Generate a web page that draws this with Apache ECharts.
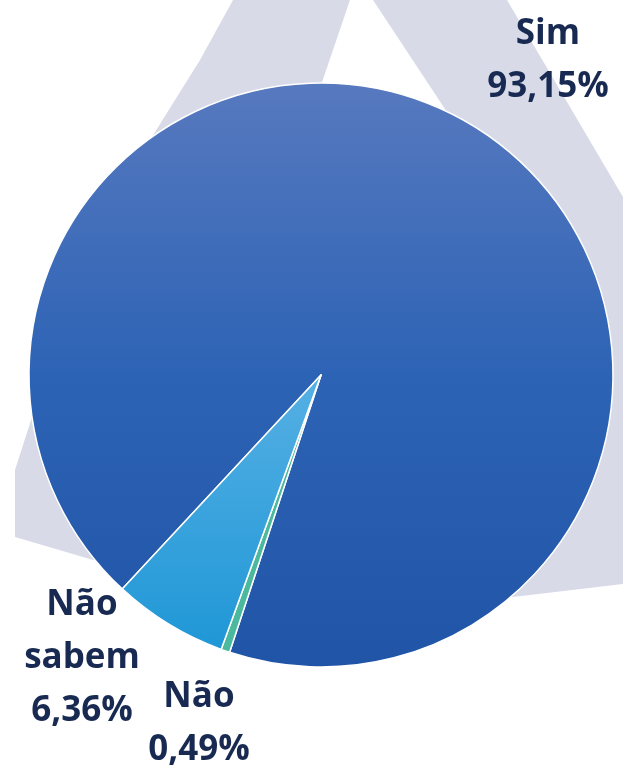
<!DOCTYPE html>
<html lang="pt">
<head>
<meta charset="UTF-8">
<title>Sim / Não / Não sabem</title>
<script src="https://cdn.jsdelivr.net/npm/echarts@6/dist/echarts.min.js"></script>
<style>
  html, body { margin: 0; padding: 0; background: #fff; }
  #main { width: 623px; height: 766px; }
</style>
</head>
<body>
<div id="main"></div>
<script>
// categorias e valores (%)
var categorias = ['Sim', 'Não', 'Não\nsabem'];
var valores = [93.15, 0.49, 6.36];

// posicao dos rotulos (centro do bloco de texto)
var rotuloX = [548, 199, 82];
var rotuloY = [61, 724, 658];

var chart = echarts.init(document.getElementById('main'));

function grad(c0, c1, c2) {
    var stops = [{ offset: 0, color: c0 }];
    if (c2) {
        stops.push({ offset: 0.5, color: c1 });
        stops.push({ offset: 1, color: c2 });
    } else {
        stops.push({ offset: 1, color: c1 });
    }
    return new echarts.graphic.LinearGradient(0, 0, 0, 1, stops);
}

var cores = [
    grad('#5779bf', '#2d63b5', '#2054a7'),
    '#4ab99d',
    grad('#56b0e4', '#1f97d6')
];

var dados = [];
for (var i = 0; i < categorias.length; i++) {
    dados.push({ name: categorias[i], value: valores[i], itemStyle: { color: cores[i] } });
}

var option = {
    animation: false,
    // marca d'agua (letra A) atras do grafico
    graphic: [
        {
            type: 'polygon',
            z: 0,
            shape: {
                points: [[233, 0], [507, 0], [623, 197], [623, 584], [513, 597],
                         [300, 582], [100, 562], [15, 537], [15, 470], [60, 330],
                         [150, 140], [200, 60]]
            },
            style: { fill: '#d8dbe7' }
        },
        {
            type: 'polygon',
            z: 1,
            shape: { points: [[350, 0], [373, 0], [505, 200], [282, 200]] },
            style: { fill: '#ffffff' }
        }
    ],
    series: [{
        type: 'pie',
        z: 5,
        center: [321, 375],
        radius: 292,
        startAngle: -132.9,
        clockwise: true,
        avoidLabelOverlap: false,
        itemStyle: { borderColor: '#ffffff', borderWidth: 1.5 },
        label: {
            show: true,
            formatter: function (p) {
                return p.name + '\n' + p.value.toFixed(2).replace('.', ',') + '%';
            },
            fontFamily: 'Open Sans',
            fontWeight: 'bold',
            fontSize: 35,
            lineHeight: 53,
            color: '#182a52',
            align: 'center'
        },
        labelLine: { show: false },
        labelLayout: function (params) {
            return {
                x: rotuloX[params.dataIndex],
                y: rotuloY[params.dataIndex],
                align: 'center',
                verticalAlign: 'middle'
            };
        },
        emphasis: { disabled: true },
        data: dados
    }]
};

chart.setOption(option);
</script>
</body>
</html>
